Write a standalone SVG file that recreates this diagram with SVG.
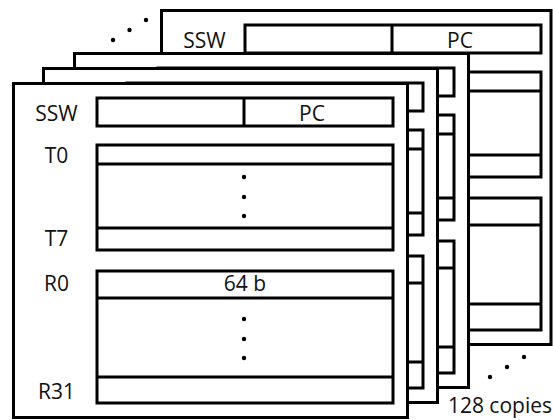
<svg xmlns="http://www.w3.org/2000/svg" xmlns:xlink="http://www.w3.org/1999/xlink" width="553" height="420" viewBox="0 0 553 420">
<style>
.frame{fill:#fff;stroke:#000;stroke-width:3}
.box{fill:none;stroke:#000;stroke-width:3}
.ln{stroke:#000;stroke-width:3}
.lbl{font-family:"Open Sans","Liberation Sans",sans-serif;font-size:21px;fill:#111}
.dot{fill:#000}
</style>
<defs>
<g id="inner">
<rect class="box" x="97" y="98" width="296" height="28"/>
<line class="ln" x1="244" y1="98" x2="244" y2="126"/>
<rect class="box" x="97" y="145" width="296" height="105"/>
<line class="ln" x1="97" y1="164" x2="393" y2="164"/>
<line class="ln" x1="97" y1="228" x2="393" y2="228"/>
<rect class="box" x="97" y="271" width="296" height="132"/>
<line class="ln" x1="97" y1="298" x2="393" y2="298"/>
<line class="ln" x1="97" y1="377" x2="393" y2="377"/>
</g>
</defs>
<g id="copy-back" transform="translate(148,-73)">
<rect class="frame" x="13.5" y="83.5" width="389.5" height="334"/>
<use xlink:href="#inner"/>
<text class="lbl" x="56.5" y="121" text-anchor="middle">SSW</text>
<text class="lbl" x="312" y="121" text-anchor="middle">PC</text>
</g>
<g id="copy-3" transform="translate(61,-30)">
<rect class="frame" x="13.5" y="83.5" width="394" height="334"/>
<use xlink:href="#inner"/>
</g>
<g id="copy-2" transform="translate(30,-15)">
<rect class="frame" x="13.5" y="83.5" width="394" height="334"/>
<use xlink:href="#inner"/>
</g>
<g id="copy-front">
<rect class="frame" x="13.5" y="83.5" width="394" height="334"/>
<use xlink:href="#inner"/>
<text class="lbl" x="56.5" y="121" text-anchor="middle">SSW</text>
<text class="lbl" x="312" y="121" text-anchor="middle">PC</text>
<text class="lbl" x="56.5" y="163" text-anchor="middle">T0</text>
<text class="lbl" x="56.5" y="246" text-anchor="middle">T7</text>
<text class="lbl" x="56.5" y="291" text-anchor="middle">R0</text>
<text class="lbl" x="245" y="291" text-anchor="middle">64 b</text>
<text class="lbl" x="56.5" y="399" text-anchor="middle">R31</text>
<circle class="dot" cx="244" cy="177" r="2.2"/>
<circle class="dot" cx="244" cy="197" r="2.2"/>
<circle class="dot" cx="244" cy="216" r="2.2"/>
<circle class="dot" cx="244" cy="319" r="2.2"/>
<circle class="dot" cx="244" cy="339" r="2.2"/>
<circle class="dot" cx="244" cy="358" r="2.2"/>
</g>
<g id="ellipsis-top">
<circle class="dot" cx="113" cy="40" r="2.2"/>
<circle class="dot" cx="129.5" cy="30" r="2.2"/>
<circle class="dot" cx="146" cy="20" r="2.2"/>
</g>
<g id="ellipsis-bottom">
<circle class="dot" cx="490" cy="377" r="2.2"/>
<circle class="dot" cx="507" cy="367" r="2.2"/>
<circle class="dot" cx="524" cy="357" r="2.2"/>
</g>
<text id="copies" class="lbl" x="552" y="413" text-anchor="end">128 copies</text>
</svg>
